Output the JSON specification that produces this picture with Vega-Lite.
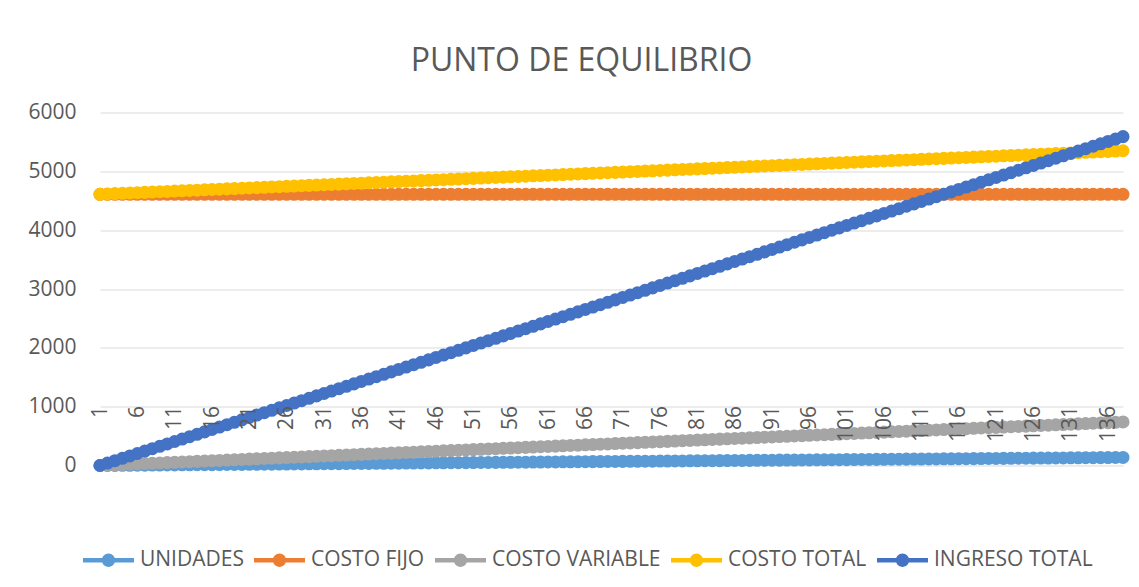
{
"$schema": "https://vega.github.io/schema/vega-lite/v6.json",
"autosize": {"type": "none"},
"padding": {"left": 100, "top": 112.5, "right": 16, "bottom": 121.5},
"background": "white",
"width": 1023,
"height": 353,
"title": {"text": "PUNTO DE EQUILIBRIO", "fontSize": 32, "font": "Open Sans", "fontWeight": "normal", "color": "#595959", "anchor": "middle", "frame": "group", "dx": -30, "offset": -1, "baseline": "alphabetic"},
"data": {"values": [
{"c":1,"u":0,"cf":4610,"cv":0,"ct":4610,"it":0},
{"c":2,"u":1,"cf":4610,"cv":5.4,"ct":4615.4,"it":40.8},
{"c":3,"u":2,"cf":4610,"cv":10.8,"ct":4620.8,"it":81.6},
{"c":4,"u":3,"cf":4610,"cv":16.2,"ct":4626.2,"it":122.4},
{"c":5,"u":4,"cf":4610,"cv":21.6,"ct":4631.6,"it":163.2},
{"c":6,"u":5,"cf":4610,"cv":27,"ct":4637,"it":204},
{"c":7,"u":6,"cf":4610,"cv":32.4,"ct":4642.4,"it":244.8},
{"c":8,"u":7,"cf":4610,"cv":37.8,"ct":4647.8,"it":285.6},
{"c":9,"u":8,"cf":4610,"cv":43.2,"ct":4653.2,"it":326.4},
{"c":10,"u":9,"cf":4610,"cv":48.6,"ct":4658.6,"it":367.2},
{"c":11,"u":10,"cf":4610,"cv":54,"ct":4664,"it":408},
{"c":12,"u":11,"cf":4610,"cv":59.4,"ct":4669.4,"it":448.8},
{"c":13,"u":12,"cf":4610,"cv":64.8,"ct":4674.8,"it":489.6},
{"c":14,"u":13,"cf":4610,"cv":70.2,"ct":4680.2,"it":530.4},
{"c":15,"u":14,"cf":4610,"cv":75.6,"ct":4685.6,"it":571.2},
{"c":16,"u":15,"cf":4610,"cv":81,"ct":4691,"it":612},
{"c":17,"u":16,"cf":4610,"cv":86.4,"ct":4696.4,"it":652.8},
{"c":18,"u":17,"cf":4610,"cv":91.8,"ct":4701.8,"it":693.6},
{"c":19,"u":18,"cf":4610,"cv":97.2,"ct":4707.2,"it":734.4},
{"c":20,"u":19,"cf":4610,"cv":102.6,"ct":4712.6,"it":775.2},
{"c":21,"u":20,"cf":4610,"cv":108,"ct":4718,"it":816},
{"c":22,"u":21,"cf":4610,"cv":113.4,"ct":4723.4,"it":856.8},
{"c":23,"u":22,"cf":4610,"cv":118.8,"ct":4728.8,"it":897.6},
{"c":24,"u":23,"cf":4610,"cv":124.2,"ct":4734.2,"it":938.4},
{"c":25,"u":24,"cf":4610,"cv":129.6,"ct":4739.6,"it":979.2},
{"c":26,"u":25,"cf":4610,"cv":135,"ct":4745,"it":1020},
{"c":27,"u":26,"cf":4610,"cv":140.4,"ct":4750.4,"it":1060.8},
{"c":28,"u":27,"cf":4610,"cv":145.8,"ct":4755.8,"it":1101.6},
{"c":29,"u":28,"cf":4610,"cv":151.2,"ct":4761.2,"it":1142.4},
{"c":30,"u":29,"cf":4610,"cv":156.6,"ct":4766.6,"it":1183.2},
{"c":31,"u":30,"cf":4610,"cv":162,"ct":4772,"it":1224},
{"c":32,"u":31,"cf":4610,"cv":167.4,"ct":4777.4,"it":1264.8},
{"c":33,"u":32,"cf":4610,"cv":172.8,"ct":4782.8,"it":1305.6},
{"c":34,"u":33,"cf":4610,"cv":178.2,"ct":4788.2,"it":1346.4},
{"c":35,"u":34,"cf":4610,"cv":183.6,"ct":4793.6,"it":1387.2},
{"c":36,"u":35,"cf":4610,"cv":189,"ct":4799,"it":1428},
{"c":37,"u":36,"cf":4610,"cv":194.4,"ct":4804.4,"it":1468.8},
{"c":38,"u":37,"cf":4610,"cv":199.8,"ct":4809.8,"it":1509.6},
{"c":39,"u":38,"cf":4610,"cv":205.2,"ct":4815.2,"it":1550.4},
{"c":40,"u":39,"cf":4610,"cv":210.6,"ct":4820.6,"it":1591.2},
{"c":41,"u":40,"cf":4610,"cv":216,"ct":4826,"it":1632},
{"c":42,"u":41,"cf":4610,"cv":221.4,"ct":4831.4,"it":1672.8},
{"c":43,"u":42,"cf":4610,"cv":226.8,"ct":4836.8,"it":1713.6},
{"c":44,"u":43,"cf":4610,"cv":232.2,"ct":4842.2,"it":1754.4},
{"c":45,"u":44,"cf":4610,"cv":237.6,"ct":4847.6,"it":1795.2},
{"c":46,"u":45,"cf":4610,"cv":243,"ct":4853,"it":1836},
{"c":47,"u":46,"cf":4610,"cv":248.4,"ct":4858.4,"it":1876.8},
{"c":48,"u":47,"cf":4610,"cv":253.8,"ct":4863.8,"it":1917.6},
{"c":49,"u":48,"cf":4610,"cv":259.2,"ct":4869.2,"it":1958.4},
{"c":50,"u":49,"cf":4610,"cv":264.6,"ct":4874.6,"it":1999.2},
{"c":51,"u":50,"cf":4610,"cv":270,"ct":4880,"it":2040},
{"c":52,"u":51,"cf":4610,"cv":275.4,"ct":4885.4,"it":2080.8},
{"c":53,"u":52,"cf":4610,"cv":280.8,"ct":4890.8,"it":2121.6},
{"c":54,"u":53,"cf":4610,"cv":286.2,"ct":4896.2,"it":2162.4},
{"c":55,"u":54,"cf":4610,"cv":291.6,"ct":4901.6,"it":2203.2},
{"c":56,"u":55,"cf":4610,"cv":297,"ct":4907,"it":2244},
{"c":57,"u":56,"cf":4610,"cv":302.4,"ct":4912.4,"it":2284.8},
{"c":58,"u":57,"cf":4610,"cv":307.8,"ct":4917.8,"it":2325.6},
{"c":59,"u":58,"cf":4610,"cv":313.2,"ct":4923.2,"it":2366.4},
{"c":60,"u":59,"cf":4610,"cv":318.6,"ct":4928.6,"it":2407.2},
{"c":61,"u":60,"cf":4610,"cv":324,"ct":4934,"it":2448},
{"c":62,"u":61,"cf":4610,"cv":329.4,"ct":4939.4,"it":2488.8},
{"c":63,"u":62,"cf":4610,"cv":334.8,"ct":4944.8,"it":2529.6},
{"c":64,"u":63,"cf":4610,"cv":340.2,"ct":4950.2,"it":2570.4},
{"c":65,"u":64,"cf":4610,"cv":345.6,"ct":4955.6,"it":2611.2},
{"c":66,"u":65,"cf":4610,"cv":351,"ct":4961,"it":2652},
{"c":67,"u":66,"cf":4610,"cv":356.4,"ct":4966.4,"it":2692.8},
{"c":68,"u":67,"cf":4610,"cv":361.8,"ct":4971.8,"it":2733.6},
{"c":69,"u":68,"cf":4610,"cv":367.2,"ct":4977.2,"it":2774.4},
{"c":70,"u":69,"cf":4610,"cv":372.6,"ct":4982.6,"it":2815.2},
{"c":71,"u":70,"cf":4610,"cv":378,"ct":4988,"it":2856},
{"c":72,"u":71,"cf":4610,"cv":383.4,"ct":4993.4,"it":2896.8},
{"c":73,"u":72,"cf":4610,"cv":388.8,"ct":4998.8,"it":2937.6},
{"c":74,"u":73,"cf":4610,"cv":394.2,"ct":5004.2,"it":2978.4},
{"c":75,"u":74,"cf":4610,"cv":399.6,"ct":5009.6,"it":3019.2},
{"c":76,"u":75,"cf":4610,"cv":405,"ct":5015,"it":3060},
{"c":77,"u":76,"cf":4610,"cv":410.4,"ct":5020.4,"it":3100.8},
{"c":78,"u":77,"cf":4610,"cv":415.8,"ct":5025.8,"it":3141.6},
{"c":79,"u":78,"cf":4610,"cv":421.2,"ct":5031.2,"it":3182.4},
{"c":80,"u":79,"cf":4610,"cv":426.6,"ct":5036.6,"it":3223.2},
{"c":81,"u":80,"cf":4610,"cv":432,"ct":5042,"it":3264},
{"c":82,"u":81,"cf":4610,"cv":437.4,"ct":5047.4,"it":3304.8},
{"c":83,"u":82,"cf":4610,"cv":442.8,"ct":5052.8,"it":3345.6},
{"c":84,"u":83,"cf":4610,"cv":448.2,"ct":5058.2,"it":3386.4},
{"c":85,"u":84,"cf":4610,"cv":453.6,"ct":5063.6,"it":3427.2},
{"c":86,"u":85,"cf":4610,"cv":459,"ct":5069,"it":3468},
{"c":87,"u":86,"cf":4610,"cv":464.4,"ct":5074.4,"it":3508.8},
{"c":88,"u":87,"cf":4610,"cv":469.8,"ct":5079.8,"it":3549.6},
{"c":89,"u":88,"cf":4610,"cv":475.2,"ct":5085.2,"it":3590.4},
{"c":90,"u":89,"cf":4610,"cv":480.6,"ct":5090.6,"it":3631.2},
{"c":91,"u":90,"cf":4610,"cv":486,"ct":5096,"it":3672},
{"c":92,"u":91,"cf":4610,"cv":491.4,"ct":5101.4,"it":3712.8},
{"c":93,"u":92,"cf":4610,"cv":496.8,"ct":5106.8,"it":3753.6},
{"c":94,"u":93,"cf":4610,"cv":502.2,"ct":5112.2,"it":3794.4},
{"c":95,"u":94,"cf":4610,"cv":507.6,"ct":5117.6,"it":3835.2},
{"c":96,"u":95,"cf":4610,"cv":513,"ct":5123,"it":3876},
{"c":97,"u":96,"cf":4610,"cv":518.4,"ct":5128.4,"it":3916.8},
{"c":98,"u":97,"cf":4610,"cv":523.8,"ct":5133.8,"it":3957.6},
{"c":99,"u":98,"cf":4610,"cv":529.2,"ct":5139.2,"it":3998.4},
{"c":100,"u":99,"cf":4610,"cv":534.6,"ct":5144.6,"it":4039.2},
{"c":101,"u":100,"cf":4610,"cv":540,"ct":5150,"it":4080},
{"c":102,"u":101,"cf":4610,"cv":545.4,"ct":5155.4,"it":4120.8},
{"c":103,"u":102,"cf":4610,"cv":550.8,"ct":5160.8,"it":4161.6},
{"c":104,"u":103,"cf":4610,"cv":556.2,"ct":5166.2,"it":4202.4},
{"c":105,"u":104,"cf":4610,"cv":561.6,"ct":5171.6,"it":4243.2},
{"c":106,"u":105,"cf":4610,"cv":567,"ct":5177,"it":4284},
{"c":107,"u":106,"cf":4610,"cv":572.4,"ct":5182.4,"it":4324.8},
{"c":108,"u":107,"cf":4610,"cv":577.8,"ct":5187.8,"it":4365.6},
{"c":109,"u":108,"cf":4610,"cv":583.2,"ct":5193.2,"it":4406.4},
{"c":110,"u":109,"cf":4610,"cv":588.6,"ct":5198.6,"it":4447.2},
{"c":111,"u":110,"cf":4610,"cv":594,"ct":5204,"it":4488},
{"c":112,"u":111,"cf":4610,"cv":599.4,"ct":5209.4,"it":4528.8},
{"c":113,"u":112,"cf":4610,"cv":604.8,"ct":5214.8,"it":4569.6},
{"c":114,"u":113,"cf":4610,"cv":610.2,"ct":5220.2,"it":4610.4},
{"c":115,"u":114,"cf":4610,"cv":615.6,"ct":5225.6,"it":4651.2},
{"c":116,"u":115,"cf":4610,"cv":621,"ct":5231,"it":4692},
{"c":117,"u":116,"cf":4610,"cv":626.4,"ct":5236.4,"it":4732.8},
{"c":118,"u":117,"cf":4610,"cv":631.8,"ct":5241.8,"it":4773.6},
{"c":119,"u":118,"cf":4610,"cv":637.2,"ct":5247.2,"it":4814.4},
{"c":120,"u":119,"cf":4610,"cv":642.6,"ct":5252.6,"it":4855.2},
{"c":121,"u":120,"cf":4610,"cv":648,"ct":5258,"it":4896},
{"c":122,"u":121,"cf":4610,"cv":653.4,"ct":5263.4,"it":4936.8},
{"c":123,"u":122,"cf":4610,"cv":658.8,"ct":5268.8,"it":4977.6},
{"c":124,"u":123,"cf":4610,"cv":664.2,"ct":5274.2,"it":5018.4},
{"c":125,"u":124,"cf":4610,"cv":669.6,"ct":5279.6,"it":5059.2},
{"c":126,"u":125,"cf":4610,"cv":675,"ct":5285,"it":5100},
{"c":127,"u":126,"cf":4610,"cv":680.4,"ct":5290.4,"it":5140.8},
{"c":128,"u":127,"cf":4610,"cv":685.8,"ct":5295.8,"it":5181.6},
{"c":129,"u":128,"cf":4610,"cv":691.2,"ct":5301.2,"it":5222.4},
{"c":130,"u":129,"cf":4610,"cv":696.6,"ct":5306.6,"it":5263.2},
{"c":131,"u":130,"cf":4610,"cv":702,"ct":5312,"it":5304},
{"c":132,"u":131,"cf":4610,"cv":707.4,"ct":5317.4,"it":5344.8},
{"c":133,"u":132,"cf":4610,"cv":712.8,"ct":5322.8,"it":5385.6},
{"c":134,"u":133,"cf":4610,"cv":718.2,"ct":5328.2,"it":5426.4},
{"c":135,"u":134,"cf":4610,"cv":723.6,"ct":5333.6,"it":5467.2},
{"c":136,"u":135,"cf":4610,"cv":729,"ct":5339,"it":5508},
{"c":137,"u":136,"cf":4610,"cv":734.4,"ct":5344.4,"it":5548.8},
{"c":138,"u":137,"cf":4610,"cv":739.8,"ct":5349.8,"it":5589.6}
]},
"encoding": {
  "x": {"field": "c", "type": "quantitative", "scale": {"domain": [1, 138], "nice": false, "zero": false},
    "axis": {"title": null, "values": [1,6,11,16,21,26,31,36,41,46,51,56,61,66,71,76,81,86,91,96,101,106,111,116,121,126,131,136], "labelAngle": -90, "labelAlign": "right", "labelBaseline": "middle", "grid": false, "ticks": false, "domain": false, "offset": -62, "labelPadding": 2, "labelFontSize": 21, "labelColor": "#595959", "labelFont": "Open Sans", "labelOverlap": false, "labelFlush": false, "labelBound": false, "zindex": 2}},
  "color": {"type": "nominal",
    "scale": {"domain": ["UNIDADES", "COSTO FIJO", "COSTO VARIABLE", "COSTO TOTAL", "INGRESO TOTAL"], "range": ["#5B9BD5", "#ED7D31", "#A5A5A5", "#FFC000", "#4472C4"]},
    "legend": {"title": null, "orient": "none", "legendX": -17, "legendY": 422, "direction": "horizontal", "labelFontSize": 21, "labelColor": "#595959", "labelFont": "Open Sans", "labelLimit": 0, "symbolType": "M-1,-0.09L1,-0.09L1,0.09L-1,0.09Z M-0.26,0A0.26,0.26 0 1,1 0.26,0A0.26,0.26 0 1,1 -0.26,0Z", "symbolSize": 2601, "symbolStrokeWidth": 0, "labelOffset": 6, "columnPadding": 10, "padding": 0}}
},
"layer": [
  {"encoding": {"y": {"field": "u", "type": "quantitative", "title": null, "scale": {"domain": [0, 6000], "nice": false},
      "axis": {"title": null, "values": [0,1000,2000,3000,4000,5000,6000], "format": "d", "grid": true, "gridColor": "#D9D9D9", "gridWidth": 1, "ticks": false, "domain": false, "labelPadding": 24, "labelFontSize": 21, "labelColor": "#595959", "labelFont": "Open Sans", "zindex": 0}},
    "color": {"datum": "UNIDADES"}},
   "layer": [
    {"mark": {"type": "line", "strokeWidth": 6}},
    {"mark": {"type": "point", "filled": true, "size": 170, "opacity": 1}}
  ]},
  {"encoding": {"y": {"field": "cf", "type": "quantitative", "title": null}, "color": {"datum": "COSTO FIJO"}},
   "layer": [
    {"mark": {"type": "line", "strokeWidth": 6}},
    {"mark": {"type": "point", "filled": true, "size": 170, "opacity": 1}}
  ]},
  {"encoding": {"y": {"field": "cv", "type": "quantitative", "title": null}, "color": {"datum": "COSTO VARIABLE"}},
   "layer": [
    {"mark": {"type": "line", "strokeWidth": 6}},
    {"mark": {"type": "point", "filled": true, "size": 170, "opacity": 1}}
  ]},
  {"encoding": {"y": {"field": "ct", "type": "quantitative", "title": null}, "color": {"datum": "COSTO TOTAL"}},
   "layer": [
    {"mark": {"type": "line", "strokeWidth": 6}},
    {"mark": {"type": "point", "filled": true, "size": 170, "opacity": 1}}
  ]},
  {"encoding": {"y": {"field": "it", "type": "quantitative", "title": null}, "color": {"datum": "INGRESO TOTAL"}},
   "layer": [
    {"mark": {"type": "line", "strokeWidth": 6}},
    {"mark": {"type": "point", "filled": true, "size": 170, "opacity": 1}}
  ]}
],
"config": {"view": {"stroke": null}, "font": "Open Sans"}
}
